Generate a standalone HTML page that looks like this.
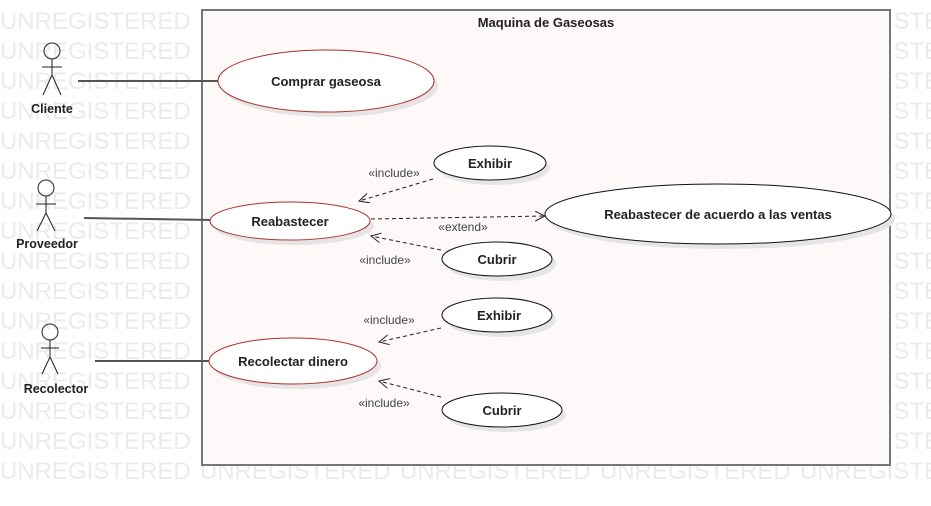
<!DOCTYPE html>
<html><head><meta charset="utf-8"><style>
html,body{margin:0;padding:0;background:#fff;width:931px;height:506px;overflow:hidden}
svg{display:block}
.wm{font-family:"Liberation Sans",sans-serif;font-size:24px;fill:#ebebeb}
.t{font-family:"Liberation Sans",sans-serif;font-size:13px;font-weight:bold;fill:#222}
.l{font-family:"Liberation Sans",sans-serif;font-size:12px;fill:#444}
</style></head><body>
<svg width="931" height="506" xmlns="http://www.w3.org/2000/svg">
<defs>
<marker id="a" markerWidth="12" markerHeight="12" refX="10" refY="5" orient="auto" markerUnits="userSpaceOnUse">
<path d="M0,0 L10,5 L0,10" fill="none" stroke="#222" stroke-width="1"/></marker>
</defs>
<g class="wm">
<text x="0" y="29">UNREGISTERED</text><text x="0" y="59">UNREGISTERED</text><text x="0" y="89">UNREGISTERED</text><text x="0" y="119">UNREGISTERED</text><text x="0" y="149">UNREGISTERED</text><text x="0" y="179">UNREGISTERED</text><text x="0" y="209">UNREGISTERED</text><text x="0" y="239">UNREGISTERED</text><text x="0" y="269">UNREGISTERED</text><text x="0" y="299">UNREGISTERED</text><text x="0" y="329">UNREGISTERED</text><text x="0" y="359">UNREGISTERED</text><text x="0" y="389">UNREGISTERED</text><text x="0" y="419">UNREGISTERED</text><text x="0" y="449">UNREGISTERED</text><text x="0" y="479">UNREGISTERED</text>
<text x="800" y="29">UNREGISTERED</text><text x="800" y="59">UNREGISTERED</text><text x="800" y="89">UNREGISTERED</text><text x="800" y="119">UNREGISTERED</text><text x="800" y="149">UNREGISTERED</text><text x="800" y="179">UNREGISTERED</text><text x="800" y="209">UNREGISTERED</text><text x="800" y="239">UNREGISTERED</text><text x="800" y="269">UNREGISTERED</text><text x="800" y="299">UNREGISTERED</text><text x="800" y="329">UNREGISTERED</text><text x="800" y="359">UNREGISTERED</text><text x="800" y="389">UNREGISTERED</text><text x="800" y="419">UNREGISTERED</text><text x="800" y="449">UNREGISTERED</text><text x="800" y="479">UNREGISTERED</text>
<text x="200" y="479">UNREGISTERED</text><text x="400" y="479">UNREGISTERED</text><text x="600" y="479">UNREGISTERED</text>
</g>
<rect x="202" y="10" width="688" height="455" fill="#fdf9f8" stroke="#777" stroke-width="2"/>
<text class="t" x="546" y="27" text-anchor="middle">Maquina de Gaseosas</text>
<g fill="#e6e4e4">
<ellipse cx="330" cy="86" rx="108" ry="31"/><ellipse cx="294" cy="226" rx="80" ry="19"/><ellipse cx="297" cy="366" rx="84" ry="23"/>
<ellipse cx="494" cy="168" rx="56" ry="17"/><ellipse cx="501" cy="264" rx="55" ry="17"/><ellipse cx="501" cy="320" rx="55" ry="17"/><ellipse cx="506" cy="415" rx="60" ry="17"/><ellipse cx="722" cy="219" rx="173" ry="30"/>
</g>
<g fill="#fff" stroke-width="1">
<ellipse cx="326" cy="81" rx="108" ry="31" stroke="#b03030"/>
<ellipse cx="290" cy="221" rx="80" ry="19" stroke="#b03030"/>
<ellipse cx="293" cy="361" rx="84" ry="23" stroke="#b03030"/>
<ellipse cx="490" cy="163" rx="56" ry="17" stroke="#111"/>
<ellipse cx="497" cy="259" rx="55" ry="17" stroke="#111"/>
<ellipse cx="497" cy="315" rx="55" ry="17" stroke="#111"/>
<ellipse cx="502" cy="410" rx="60" ry="17" stroke="#111"/>
<ellipse cx="718" cy="214" rx="173" ry="30" stroke="#111"/>
</g>
<g class="t" text-anchor="middle">
<text x="326" y="86">Comprar gaseosa</text><text x="290" y="226">Reabastecer</text><text x="293" y="366">Recolectar dinero</text>
<text x="490" y="168">Exhibir</text><text x="497" y="264">Cubrir</text><text x="499" y="320">Exhibir</text><text x="502" y="415">Cubrir</text>
<text x="718" y="219">Reabastecer de acuerdo a las ventas</text>
</g>
<g stroke="#222" fill="none" stroke-width="1">
<circle cx="52" cy="51" r="8"/><path d="M52,59 V75 M42,67 H62 M52,75 L43,95 M52,75 L61,95"/>
<circle cx="46" cy="188" r="8"/><path d="M46,196 V213 M36,204 H56 M46,213 L37,231 M46,213 L55,231"/>
<circle cx="50" cy="332" r="8"/><path d="M50,340 V357 M41,348 H59 M50,357 L42,374 M50,357 L58,374"/>
</g>
<g class="t" text-anchor="middle" style="font-size:12.5px">
<text x="52" y="113">Cliente</text><text x="47" y="248">Proveedor</text><text x="56" y="393">Recolector</text>
</g>
<g stroke="#555" stroke-width="2">
<line x1="78" y1="81" x2="218" y2="81"/><line x1="84" y1="218" x2="210" y2="220"/><line x1="95" y1="361" x2="209" y2="361"/>
</g>
<g stroke="#222" stroke-width="1" stroke-dasharray="4,3" fill="none" marker-end="url(#a)">
<line x1="433" y1="179" x2="359" y2="201"/>
<line x1="371" y1="219" x2="545" y2="216"/>
<line x1="441" y1="250" x2="371" y2="236"/>
<line x1="441" y1="328" x2="379" y2="342"/>
<line x1="441" y1="397" x2="379" y2="381"/>
</g>
<g class="l" text-anchor="middle">
<text x="394" y="177">«include»</text><text x="463" y="231">«extend»</text><text x="385" y="264">«include»</text>
<text x="389" y="324">«include»</text><text x="384" y="407">«include»</text>
</g>
</svg>
</body></html>
